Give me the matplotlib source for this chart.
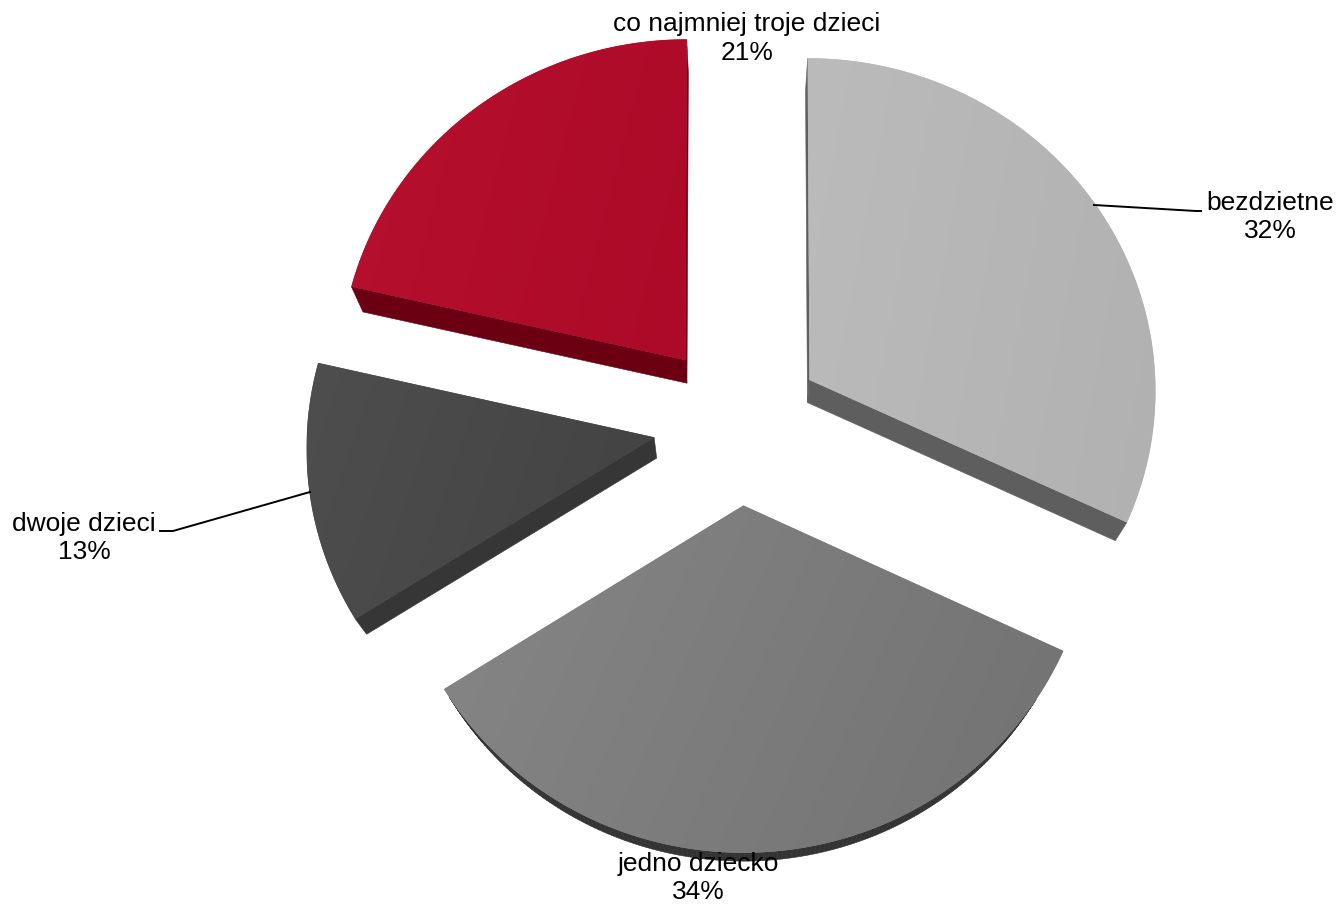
import matplotlib
matplotlib.use("Agg")
import matplotlib.pyplot as plt
import numpy as np
from matplotlib.patches import Polygon

categories = ["bezdzietne", "jedno dziecko", "dwoje dzieci", "co najmniej troje dzieci"]
shares = [32.0, 34.0, 12.6, 21.4]
percent_labels = ["32%", "34%", "13%", "21%"]

# light -> dark ends of the top face, then the side wall
face_light = ["#bbbbbb", "#868686", "#4e4e4e", "#b6112f"]
face_dark = ["#b1b1b1", "#727272", "#424242", "#ac0a28"]
wall_colors = ["#5e5e5e", "#333333", "#363636", "#6b0013"]

W, H = 1337, 906
CX, CY = 738.0, 423.5
RX, RY = 347.0, 333.0
PERSP = 0.0277
EXPLODE = 0.245
VANISH = (740.0, 1133.0)
WALL = 0.03

plt.rcParams["font.family"] = ["Liberation Sans", "DejaVu Sans"]


def project(u, v):
    w = 1 + PERSP * v
    return CX + RX * u / w, CY - RY * v / w


def wedge_outline(start, end):
    # angles clockwise from 12 o'clock, pie radius 1
    mid = np.radians((start + end) / 2)
    ou, ov = EXPLODE * np.sin(mid), EXPLODE * np.cos(mid)
    t = np.radians(np.linspace(start, end, 160))
    u = np.r_[ou, ou + np.sin(t)]
    v = np.r_[ov, ov + np.cos(t)]
    return np.column_stack(project(u, v))


def lower_face(pts):
    return pts + WALL * (np.array(VANISH) - pts)


def hex_rgb(c):
    return np.array(matplotlib.colors.to_rgb(c))


fig = plt.figure(figsize=(W / 100, H / 100), dpi=100)
ax = fig.add_axes([0, 0, 1, 1])
ax.set_xlim(0, W)
ax.set_ylim(H, 0)
ax.axis("off")

angles = np.cumsum([0] + shares) / sum(shares) * 360.0
gx, gy = np.meshgrid(np.linspace(0, 1, 200), np.linspace(0, 1, 200))

for i in range(len(shares)):
    top = wedge_outline(angles[i], angles[i + 1])
    low = lower_face(top)
    # side wall, only the outline segments that face the viewer
    for k in range(len(top)):
        n = (k + 1) % len(top)
        edge = top[n] - top[k]
        drop = low[k] - top[k]
        if edge[0] * drop[1] - edge[1] * drop[0] < 0:
            ax.add_patch(Polygon([top[k], top[n], low[n], low[k]], closed=True,
                                 fc=wall_colors[i], ec=wall_colors[i], lw=0.4, zorder=2))
    # smooth edge under the clipped image
    edge_col = (hex_rgb(face_light[i]) + hex_rgb(face_dark[i])) / 2
    ax.add_patch(Polygon(top, closed=True, fc=edge_col, ec="none", zorder=2.5))
    # top face with a soft diagonal shading
    x0, y0 = top.min(axis=0)
    x1, y1 = top.max(axis=0)
    ramp = (0.8 * gx + 0.2 * gy)[..., None]
    img = hex_rgb(face_light[i]) * (1 - ramp) + hex_rgb(face_dark[i]) * ramp
    im = ax.imshow(img, extent=[x0, x1, y1, y0], aspect="auto", zorder=3,
                   interpolation="bilinear")
    clip = Polygon(top, closed=True, transform=ax.transData, fc="none", ec="none")
    ax.add_patch(clip)
    im.set_clip_path(clip)

ax.set_xlim(0, W)
ax.set_ylim(H, 0)

# leader lines
ax.plot([1094, 1196, 1201], [205, 211, 211], color="black", lw=1.4, zorder=4)
ax.plot([310, 173, 160], [492, 531, 531], color="black", lw=1.4, zorder=4)

label_pos = [(1270, 217), (698, 878), (84, 538), (747, 38.5)]
for name, pct, (lx, ly) in zip(categories, percent_labels, label_pos):
    ax.text(lx, ly, f"{name}\n{pct}", ha="center", va="center", fontsize=19,
            linespacing=1.24, color="black", zorder=5)

fig.savefig("out.png", dpi=100)
